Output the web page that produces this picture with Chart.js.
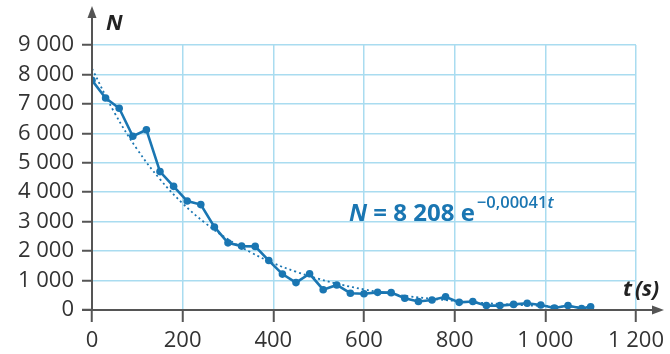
<!DOCTYPE html>
<html>
<head>
<meta charset="utf-8">
<script src="https://cdn.jsdelivr.net/npm/chart.js@4/dist/chart.umd.min.js"></script>
<style>
  html, body { margin: 0; padding: 0; background: #fff; }
  canvas { display: block; }
</style>
</head>
<body>
<canvas id="decay" width="670" height="354"></canvas>
<script>
// measured counts, one every 30 s (last one at 1100 s)
const times = [0, 30, 60, 90, 120, 150, 180, 210, 240, 270, 300, 330, 360, 390, 420, 450, 480, 510, 540, 570,
  600, 630, 660, 690, 720, 750, 780, 810, 840, 870, 900, 930, 960, 990, 1020, 1050, 1080, 1100];
const counts = [7800, 7200, 6850, 5900, 6120, 4700, 4200, 3700, 3580, 2820, 2280, 2170, 2160, 1680, 1220, 930, 1230, 690, 850, 570,
  550, 600, 590, 400, 290, 340, 450, 260, 290, 150, 150, 190, 230, 170, 70, 150, 50, 110];

// dotted fitted curve
const fitTimes = [0, 50, 100, 150, 200, 250, 300, 350, 400, 450, 500, 550, 600, 650, 700, 750, 800, 850, 900, 950, 1000, 1050, 1100];
const fitCounts = [8200, 6690, 5450, 4440, 3620, 2950, 2400, 1960, 1590, 1300, 1060, 860, 700, 570, 465, 380, 310, 250, 205, 165, 135, 110, 90];

const xTicks = [0, 200, 400, 600, 800, 1000, 1200];
const yTicks = [0, 1000, 2000, 3000, 4000, 5000, 6000, 7000, 8000, 9000];

const blue = '#1a76b2';
const grid = '#a9dcf0';
const axis = '#555555';
const fmt = v => String(v).replace(/\B(?=(\d{3})+(?!\d))/g, ' ');

// axis arrows and text labels
const extras = {
  id: 'extras',
  afterDraw(chart) {
    const { ctx, chartArea: a } = chart;
    ctx.save();
    ctx.strokeStyle = axis;
    ctx.fillStyle = axis;
    ctx.lineWidth = 2;
    ctx.beginPath();
    ctx.moveTo(a.left, a.bottom);
    ctx.lineTo(a.left, 14);
    ctx.moveTo(a.left - 10, a.bottom);
    ctx.lineTo(656, a.bottom);
    ctx.stroke();
    ctx.beginPath();
    ctx.moveTo(a.left, 6);
    ctx.lineTo(a.left - 4.5, 18);
    ctx.lineTo(a.left + 4.5, 18);
    ctx.closePath();
    ctx.fill();
    ctx.beginPath();
    ctx.moveTo(664, a.bottom);
    ctx.lineTo(652, a.bottom - 4.5);
    ctx.lineTo(652, a.bottom + 4.5);
    ctx.closePath();
    ctx.fill();

    ctx.fillStyle = '#222';
    ctx.textBaseline = 'alphabetic';
    ctx.font = 'italic bold 22px "Open Sans"';
    ctx.fillText('N', 106, 30);
    ctx.fillText('t', 623, 296);
    ctx.font = 'italic bold 21px "Open Sans"';
    ctx.fillText('(s)', 635, 296);

    ctx.fillStyle = blue;
    ctx.font = 'italic bold 24px "Open Sans"';
    ctx.fillText('N', 349, 221);
    let x = 349 + ctx.measureText('N').width;
    ctx.font = 'bold 24px "Open Sans"';
    const main = ' = 8 208 e';
    ctx.fillText(main, x, 221);
    x += ctx.measureText(main).width + 2;
    ctx.font = '600 16.5px "Open Sans"';
    ctx.fillText('\u22120,00041', x, 208);
    x += ctx.measureText('\u22120,00041').width;
    ctx.font = 'italic 600 16.5px "Open Sans"';
    ctx.fillText('t', x, 208);
    ctx.restore();
  }
};

new Chart(document.getElementById('decay'), {
  type: 'line',
  data: {
    datasets: [
      {
        label: 'fit',
        data: fitTimes.map((t, i) => ({ x: t, y: fitCounts[i] })),
        borderColor: blue,
        borderWidth: 1.8,
        borderDash: [2, 3],
        pointRadius: 0,
        tension: 0.4,
        fill: false
      },
      {
        label: 'N',
        data: times.map((t, i) => ({ x: t, y: counts[i] })),
        borderColor: blue,
        backgroundColor: blue,
        borderWidth: 2.6,
        pointRadius: 3.8,
        pointBorderWidth: 0,
        tension: 0,
        fill: false
      }
    ]
  },
  options: {
    responsive: false,
    animation: false,
    devicePixelRatio: 1,
    layout: { padding: { top: 45, right: 31, left: 0, bottom: 0 } },
    plugins: { legend: { display: false }, tooltip: { enabled: false } },
    scales: {
      x: {
        type: 'linear',
        min: 0, max: 1200,
        afterBuildTicks: s => { s.ticks = xTicks.map(v => ({ value: v })); },
        afterFit: s => { s.height = 44; },
        border: { display: false },
        grid: {
          color: c => c.tick && c.tick.value === 0 ? 'rgba(0,0,0,0)' : grid,
          lineWidth: 1.5,
          tickColor: axis,
          tickLength: 12,
          tickWidth: 2
        },
        ticks: {
          autoSkip: false,
          callback: v => fmt(v),
          color: '#333',
          font: { family: 'Open Sans', size: 22 },
          padding: 6,
          maxRotation: 0
        }
      },
      y: {
        min: 0, max: 9000,
        afterBuildTicks: s => { s.ticks = yTicks.map(v => ({ value: v })); },
        afterFit: s => { s.width = 92; },
        border: { display: false },
        grid: {
          color: c => c.tick && c.tick.value === 0 ? 'rgba(0,0,0,0)' : grid,
          lineWidth: 1.5,
          tickColor: axis,
          tickLength: 10,
          tickWidth: 2
        },
        ticks: {
          autoSkip: false,
          callback: v => fmt(v),
          color: '#333',
          font: { family: 'Open Sans', size: 22 },
          padding: 8
        }
      }
    }
  },
  plugins: [extras]
});
</script>
</body>
</html>
